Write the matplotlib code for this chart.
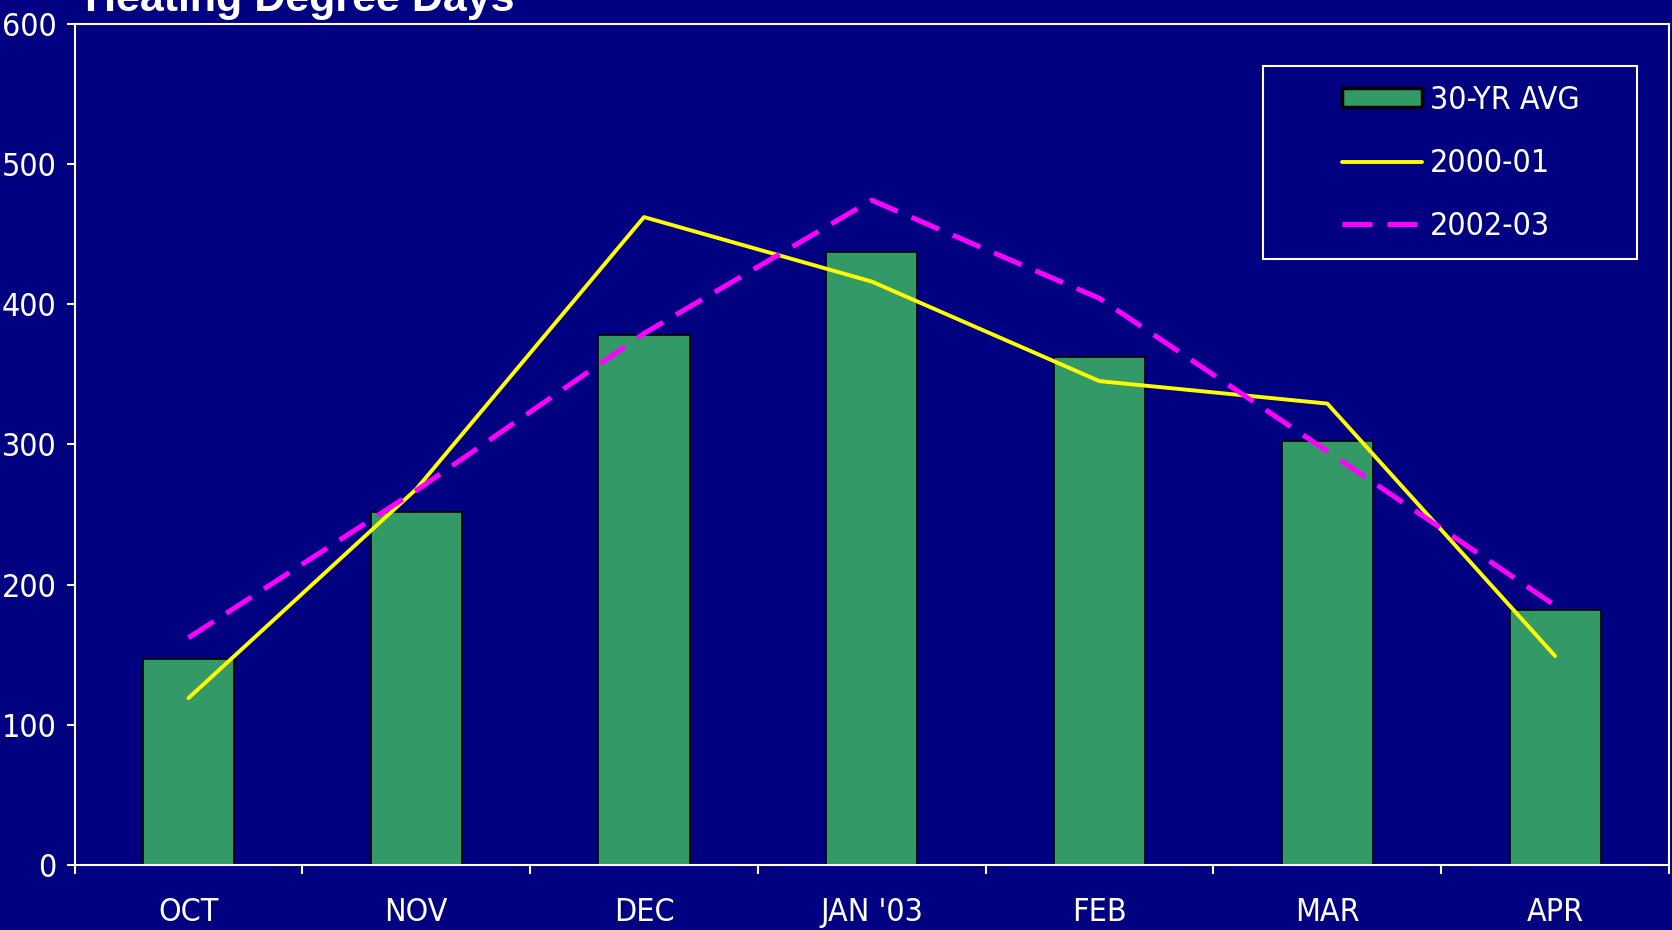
import numpy as np
import matplotlib
matplotlib.use("Agg")
import matplotlib.pyplot as plt
from matplotlib import font_manager
from matplotlib.patches import Rectangle

months = ["OCT", "NOV", "DEC", "JAN '03", "FEB", "MAR", "APR"]
avg_30yr = [147, 252, 378, 437, 362, 302, 182]
hdd_2000_01 = [119, 268, 462, 416, 345, 329, 149]
hdd_2002_03 = [162, 267, 379, 474, 404, 295, 185]
yticks = [0, 100, 200, 300, 400, 500, 600]

NAVY = "#000080"
GREEN = "#339966"

# condensed upright face for the axis text if one is installed
cond = [f for f in font_manager.fontManager.ttflist
        if f.name == "DejaVu Sans" and f.stretch == "condensed"
        and f.style == "normal" and f.weight in (400, "normal")]
if cond:
    axfont = font_manager.FontProperties(fname=cond[0].fname, size=23)
else:
    axfont = font_manager.FontProperties(family="Liberation Sans", size=22)

fig = plt.figure(figsize=(16.72, 9.30), dpi=100, facecolor=NAVY)
ax = fig.add_axes([0.0446, 0.0699, 0.9536, 0.9048], facecolor=NAVY)

x = np.arange(len(months))
bars = ax.bar(x, avg_30yr, width=0.4, color=GREEN, edgecolor="black", linewidth=1.2,
              label="30-YR AVG", zorder=2)
l1, = ax.plot(x, hdd_2000_01, color="#FFFF00", lw=2.8, solid_capstyle="round",
              label="2000-01", zorder=3)
l2, = ax.plot(x, hdd_2002_03, color="#FF00FF", lw=3.6, dashes=(6, 3),
              dash_capstyle="butt", label="2002-03", zorder=4)

ax.set_xlim(-0.5, len(months) - 0.5)
ax.set_ylim(0, 600)

for s in ax.spines.values():
    s.set_color("white")
    s.set_linewidth(1.5)

# category boundaries get the tick marks, labels sit at the centres
ax.set_xticks(np.arange(-0.5, len(months), 1.0))
ax.set_xticklabels([])
ax.set_xticks(x, minor=True)
ax.set_xticklabels(months, minor=True, fontproperties=axfont, color="white")
ax.tick_params(axis="x", which="major", direction="out", length=6.5, width=1.5, color="white")
ax.tick_params(axis="x", which="minor", length=0, pad=23)

ax.set_yticks(yticks)
ax.set_yticklabels([str(v) for v in yticks], fontproperties=axfont, color="white")
ax.tick_params(axis="y", direction="out", length=6, width=1.5, color="white", pad=7)

fig.text(0.051, 1 - 11 / 930, "Heating Degree Days", fontsize=31, fontweight="bold",
         family="Liberation Sans", color="white", va="baseline", ha="left")

# legend box drawn by hand, legend itself without frame
fig.patches.append(Rectangle((1262.5 / 1672, 1 - 259 / 930), 374.5 / 1672, 193 / 930,
                             transform=fig.transFigure, fill=False,
                             edgecolor="white", linewidth=1.5))
leg = ax.legend([bars, l1, l2], ["30-YR AVG", "2000-01", "2002-03"],
                loc="center", bbox_to_anchor=(1461 / 1672, 1 - 163.5 / 930),
                bbox_transform=fig.transFigure, frameon=False, prop=axfont,
                handlelength=2.5, handleheight=0.55, handletextpad=0.25,
                labelspacing=1.0, borderpad=0)
for t in leg.get_texts():
    t.set_color("white")
leg.legend_handles[0].set_linewidth(2.5)

fig.savefig("out.png", dpi=100, facecolor=NAVY)
